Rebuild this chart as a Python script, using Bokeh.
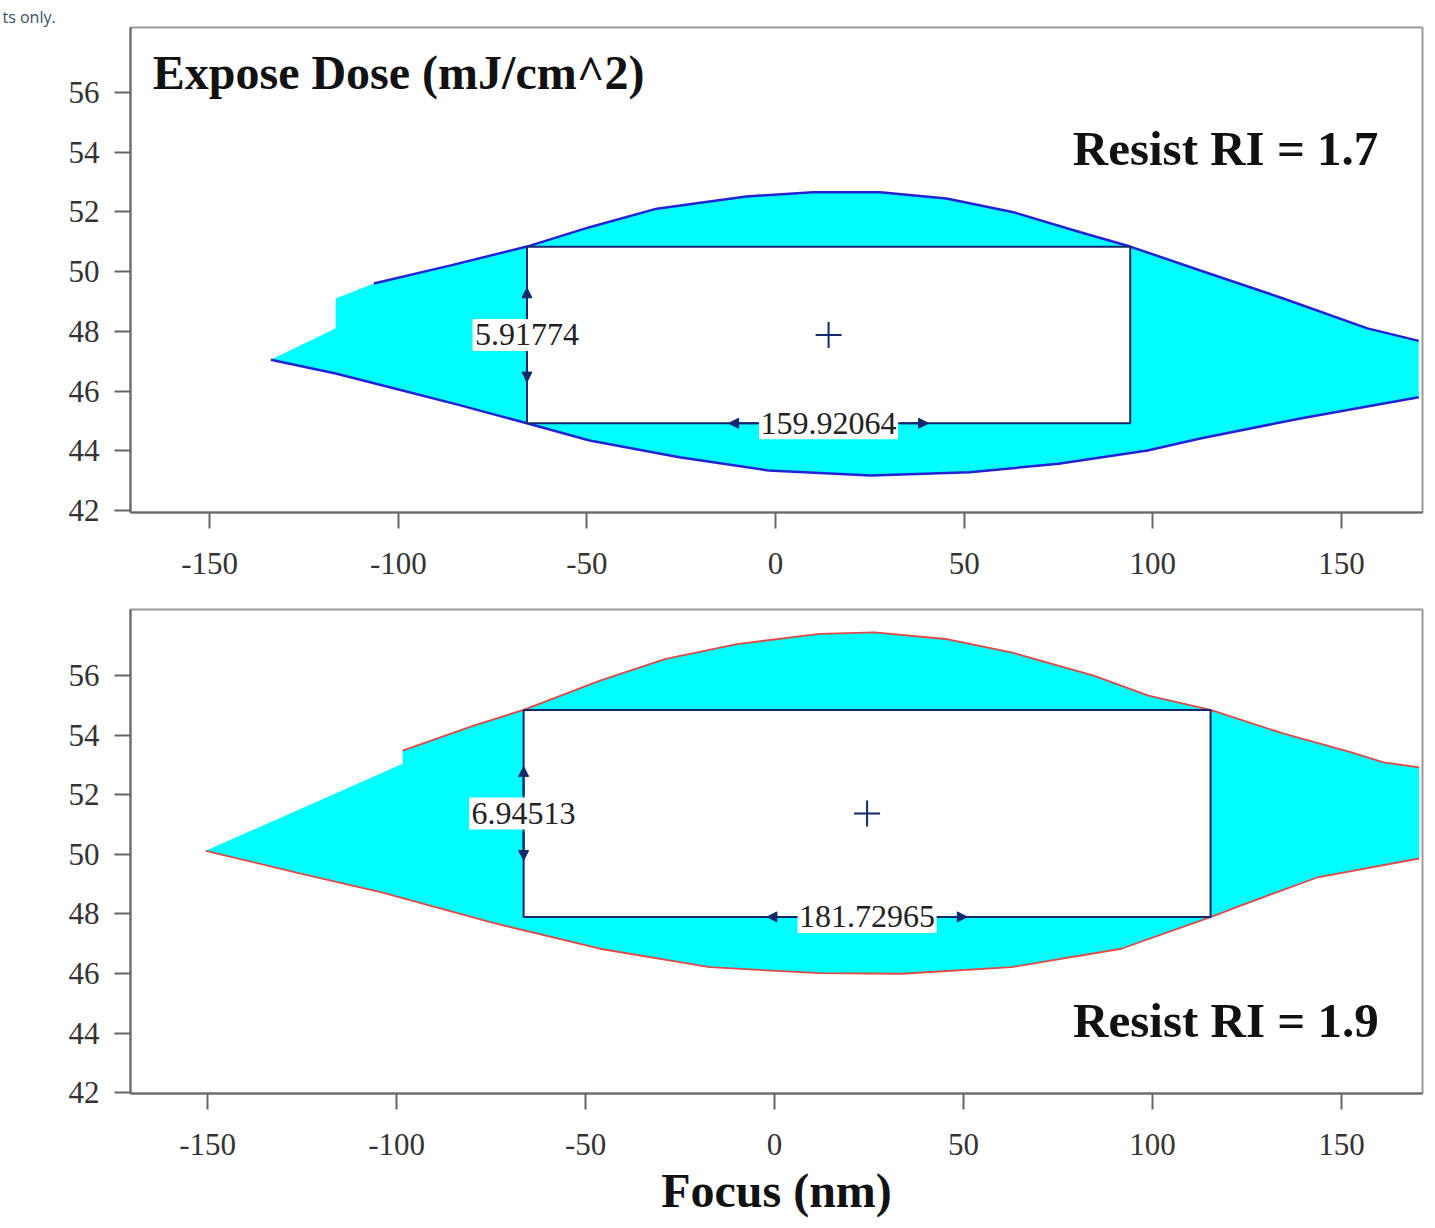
from bokeh.plotting import figure
from bokeh.models import Range1d, Label, Arrow, NormalHead, FixedTicker, Title
from bokeh.layouts import column
from bokeh.embed import file_html
from bokeh.resources import INLINE

# ---------------- data ----------------
x_ticks = [-150, -100, -50, 0, 50, 100, 150]
y_ticks = [42, 44, 46, 48, 50, 52, 54, 56]

# Resist RI = 1.7 (top panel)
up1_x = [-106.5, -86.1, -65.9, -49.3, -31.5, -7.8, 9.9, 27.7, 45.3, 63.1, 80.8, 94.0, 112.6, 134.6, 156.9, 170.5]
up1_y = [49.60, 50.21, 50.84, 51.49, 52.11, 52.52, 52.66, 52.66, 52.45, 51.99, 51.32, 50.84, 50.04, 49.10, 48.10, 47.68]
lo1_x = [-133.8, -116.6, -98.9, -83.5, -65.9, -49.3, -25.5, -1.9, 25.3, 51.4, 75.0, 98.6, 112.6, 139.1, 170.5]
lo1_y = [47.05, 46.59, 46.02, 45.52, 44.92, 44.34, 43.78, 43.34, 43.17, 43.28, 43.56, 44.01, 44.41, 45.08, 45.79]
jag1_x = [-133.8, -116.6, -116.6, -106.5]
jag1_y = [47.05, 48.10, 49.10, 49.60]
rect1 = dict(x0=-65.9, width=159.92064, y0=44.92, height=5.91774)
label1 = "Resist RI = 1.7"

# Resist RI = 1.9 (bottom panel)
up2_x = [-98.4, -79.6, -66.4, -46.2, -28.8, -9.9, 11.9, 26.4, 45.2, 62.6, 84.4, 98.9, 115.3, 134.7, 152.4, 161.1, 170.5]
up2_y = [53.48, 54.32, 54.85, 55.83, 56.56, 57.06, 57.40, 57.45, 57.23, 56.78, 56.00, 55.33, 54.85, 54.05, 53.43, 53.09, 52.92]
lo2_x = [-150.5, -125.4, -104.2, -75.2, -46.2, -17.2, 11.9, 33.6, 62.6, 91.7, 115.3, 123.3, 143.7, 170.5]
lo2_y = [50.12, 49.35, 48.73, 47.72, 46.83, 46.21, 46.01, 45.99, 46.21, 46.83, 47.89, 48.28, 49.23, 49.86]
jag2_x = [-150.5, -98.4, -98.4]
jag2_y = [50.12, 53.04, 53.48]
rect2 = dict(x0=-66.4, width=181.72965, y0=47.90, height=6.94513)
label2 = "Resist RI = 1.9"

title_text = "Expose Dose (mJ/cm^2)"
xlabel_text = "Focus (nm)"
slide_text = "ts only."

FILL = "#00ffff"
NAVY = "#13296b"
SERIF = "Liberation Serif"


def style(p):
    p.toolbar_location = None
    p.xgrid.visible = False
    p.ygrid.visible = False
    p.outline_line_color = "#9a9a9a"
    p.outline_line_width = 2
    p.background_fill_color = "white"
    p.border_fill_color = "white"
    for ax in (p.xaxis[0], p.yaxis[0]):
        ax.axis_line_color = "#666666"
        ax.axis_line_width = 2
        ax.major_tick_line_color = "#666666"
        ax.major_tick_line_width = 2
        ax.major_tick_out = 16
        ax.major_tick_in = 0
        ax.minor_tick_line_color = None
        ax.major_label_text_font = SERIF
        ax.major_label_text_font_size = "31px"
        ax.major_label_text_color = "#333333"
    p.xaxis[0].ticker = FixedTicker(ticks=x_ticks)
    p.yaxis[0].ticker = FixedTicker(ticks=y_ticks)
    p.xaxis[0].major_label_overrides = {t: str(t) for t in x_ticks}
    p.yaxis[0].major_label_overrides = {t: str(t) for t in y_ticks}
    p.xaxis[0].major_label_standoff = 24
    p.yaxis[0].major_label_standoff = 15


def panel(p, up_x, up_y, lo_x, lo_y, jag_x, jag_y, rect, edge_color, edge_width):
    px = list(jag_x) + list(up_x[1:]) + list(lo_x[::-1])
    py = list(jag_y) + list(up_y[1:]) + list(lo_y[::-1])
    p.patch(px, py, fill_color=FILL, line_color=None)
    p.line(up_x, up_y, line_color=edge_color, line_width=edge_width)
    p.line(lo_x, lo_y, line_color=edge_color, line_width=edge_width)
    x0, w, y0, h = rect["x0"], rect["width"], rect["y0"], rect["height"]
    cx, cy = x0 + w / 2, y0 + h / 2
    p.quad(left=[x0], right=[x0 + w], bottom=[y0], top=[y0 + h],
           fill_color="white", line_color=NAVY, line_width=2)
    p.scatter([cx], [cy], marker="cross", size=26, line_color=NAVY, line_width=2)
    head = dict(size=10, fill_color=NAVY, line_color=NAVY)
    for s in (1, -1):
        p.add_layout(Arrow(end=NormalHead(**head), x_start=x0, y_start=cy + s * 0.62,
                           x_end=x0, y_end=cy + s * 1.58, line_color=NAVY, line_width=2))
    for s in (1, -1):
        p.add_layout(Arrow(end=NormalHead(**head), x_start=cx + s * 19.0, y_start=y0,
                           x_end=cx + s * 26.5, y_end=y0, line_color=NAVY, line_width=2))
    htxt, wtxt = "%.5f" % h, "%.5f" % w
    # white boxes behind the dimension labels
    p.rect(x=[x0, cx], y=[cy, y0], width=[len(htxt) * 15 + 4, len(wtxt) * 15 + 4], height=[32, 32],
           width_units="screen", height_units="screen", fill_color="white", line_color=None)
    p.add_layout(Label(x=x0, y=cy, text=htxt, text_align="center", text_baseline="middle",
                       text_font=SERIF, text_font_size="32px", text_color="#222222"))
    p.add_layout(Label(x=cx, y=y0, text=wtxt, text_align="center", text_baseline="middle",
                       text_font=SERIF, text_font_size="32px", text_color="#222222"))


# ---------------- top panel ----------------
p1 = figure(frame_width=1292, frame_height=485, min_border_left=130, min_border_right=5,
            min_border_top=27, min_border_bottom=85,
            x_range=Range1d(-171.0, 171.5), y_range=Range1d(41.93, 58.18),
            output_backend="svg", toolbar_location=None, tools="")
style(p1)
p1.add_layout(Title(text=slide_text, text_font="Open Sans", text_font_size="16px",
                    text_font_style="normal", text_color="#3b4f6b", align="left",
                    offset=-128, standoff=0), "above")
panel(p1, up1_x, up1_y, lo1_x, lo1_y, jag1_x, jag1_y, rect1, "#2323d6", 2.5)
p1.add_layout(Label(x=-165.1, y=56.67, text=title_text, text_font=SERIF, text_font_style="bold",
                    text_font_size="48px", text_color="#111111", text_baseline="alphabetic"))
p1.add_layout(Label(x=159.8, y=54.12, text=label1, text_font=SERIF, text_font_style="bold",
                    text_font_size="49px", text_color="#111111", text_align="right",
                    text_baseline="alphabetic"))

# ---------------- bottom panel ----------------
p2 = figure(frame_width=1292, frame_height=484, min_border_left=130, min_border_right=5,
            min_border_top=12, min_border_bottom=100,
            x_range=Range1d(-170.4, 171.4), y_range=Range1d(41.97, 58.22),
            output_backend="svg", toolbar_location=None, tools="")
style(p2)
panel(p2, up2_x, up2_y, lo2_x, lo2_y, jag2_x, jag2_y, rect2, "#e04848", 1.8)
p2.add_layout(Label(x=159.8, y=44.42, text=label2, text_font=SERIF, text_font_style="bold",
                    text_font_size="49px", text_color="#111111", text_align="right",
                    text_baseline="alphabetic"))
p2.xaxis[0].axis_label = xlabel_text
p2.xaxis[0].axis_label_text_font = SERIF
p2.xaxis[0].axis_label_text_font_style = "bold"
p2.xaxis[0].axis_label_text_font_size = "48px"
p2.xaxis[0].axis_label_text_color = "#111111"
p2.xaxis[0].axis_label_standoff = 6

layout = column(p1, p2, spacing=0)
open("out.html", "w").write(file_html(layout, INLINE))
